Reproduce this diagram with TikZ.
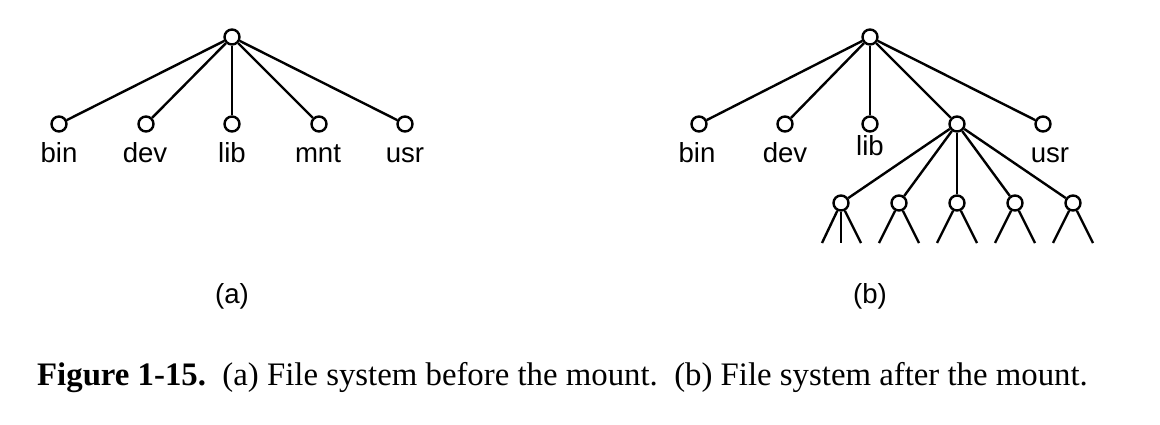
\documentclass[tikz,border=0pt]{standalone}
\usepackage{fontspec}
\setmainfont{Liberation Serif}
\newfontfamily\dirfont{Liberation Sans}
\usetikzlibrary{positioning}

\begin{document}
\begin{tikzpicture}[x=0.5pt,y=-0.5pt,line width=1.2pt,
  dir node/.style={circle,draw,fill=white,inner sep=0pt,minimum size=7.5pt},
  dir label/.style={font=\dirfont\fontsize{13.8}{16}\selectfont,inner sep=0pt,anchor=base},
  part label/.style={font=\dirfont\fontsize{13.8}{16}\selectfont,inner sep=0pt}]
			
			\useasboundingbox (0,0) rectangle (1160,424);
			
			% (a) before the mount
			\node[dir node] at (232,37) (ra) {};
			\node[dir node] at (59,124) (bina) {};
			\node[dir node] at (146,124) (deva) {};
			\node[dir node] at (232,124) (liba) {};
			\node[dir node] at (319,124) (mnta) {};
			\node[dir node] at (405,124) (usra) {};
			
			\node[dir label] at (59,162) (tbina) {bin};
			\node[dir label] at (145,162) (tdeva) {dev};
			\node[dir label] at (232,162) (tliba) {lib};
			\node[dir label] at (318,162) (tmnta) {mnt};
			\node[dir label] at (405,162) (tusra) {usr};
			
			\path
			(ra) edge (bina)
			(ra) edge (deva)
			(ra) edge (liba)
			(ra) edge (mnta)
			(ra) edge (usra)
			;
			
			% (b) after the mount
			\node[dir node] at (870,37) (rb) {};
			\node[dir node] at (699,124) (binb) {};
			\node[dir node] at (785,124) (devb) {};
			\node[dir node] at (870,124) (libb) {};
			\node[dir node] at (957,124) (mntb) {};
			\node[dir node] at (1043,124) (usrb) {};
			
			\node[dir label] at (697,162) (tbinb) {bin};
			\node[dir label] at (785,162) (tdevb) {dev};
			\node[dir label] at (870,155) (tlibb) {lib};
			\node[dir label] at (1050,162) (tusrb) {usr};
			
			\node[dir node] at (841,203) (c1) {};
			\node[dir node] at (899,203) (c2) {};
			\node[dir node] at (957,203) (c3) {};
			\node[dir node] at (1015,203) (c4) {};
			\node[dir node] at (1073,203) (c5) {};
			
			\coordinate (l1a) at (822,243);
			\coordinate (l1b) at (841,243);
			\coordinate (l1c) at (861,243);
			\coordinate (l2a) at (879,243);
			\coordinate (l2b) at (919,243);
			\coordinate (l3a) at (937,243);
			\coordinate (l3b) at (977,243);
			\coordinate (l4a) at (995,243);
			\coordinate (l4b) at (1035,243);
			\coordinate (l5a) at (1053,243);
			\coordinate (l5b) at (1093,243);
			
			\path
			(rb) edge (binb)
			(rb) edge (devb)
			(rb) edge (libb)
			(rb) edge (mntb)
			(rb) edge (usrb)
			(mntb) edge (c1)
			(mntb) edge (c2)
			(mntb) edge (c3)
			(mntb) edge (c4)
			(mntb) edge (c5)
			(c1) edge (l1a) (c1) edge (l1b) (c1) edge (l1c)
			(c2) edge (l2a) (c2) edge (l2b)
			(c3) edge (l3a) (c3) edge (l3b)
			(c4) edge (l4a) (c4) edge (l4b)
			(c5) edge (l5a) (c5) edge (l5b)
			;
			
			\node[part label] at (232,296) (pa) {(a)};
			\node[part label] at (870,296) (pb) {(b)};
			
			\node[anchor=base west,inner sep=0pt,font=\fontsize{16.4}{19}\selectfont] at (36,385) (cap)
			{\textbf{Figure 1-15.}\ \ (a) File system before the mount.\ \ (b) File system after the mount.};
			
			\end{tikzpicture}
\end{document}
